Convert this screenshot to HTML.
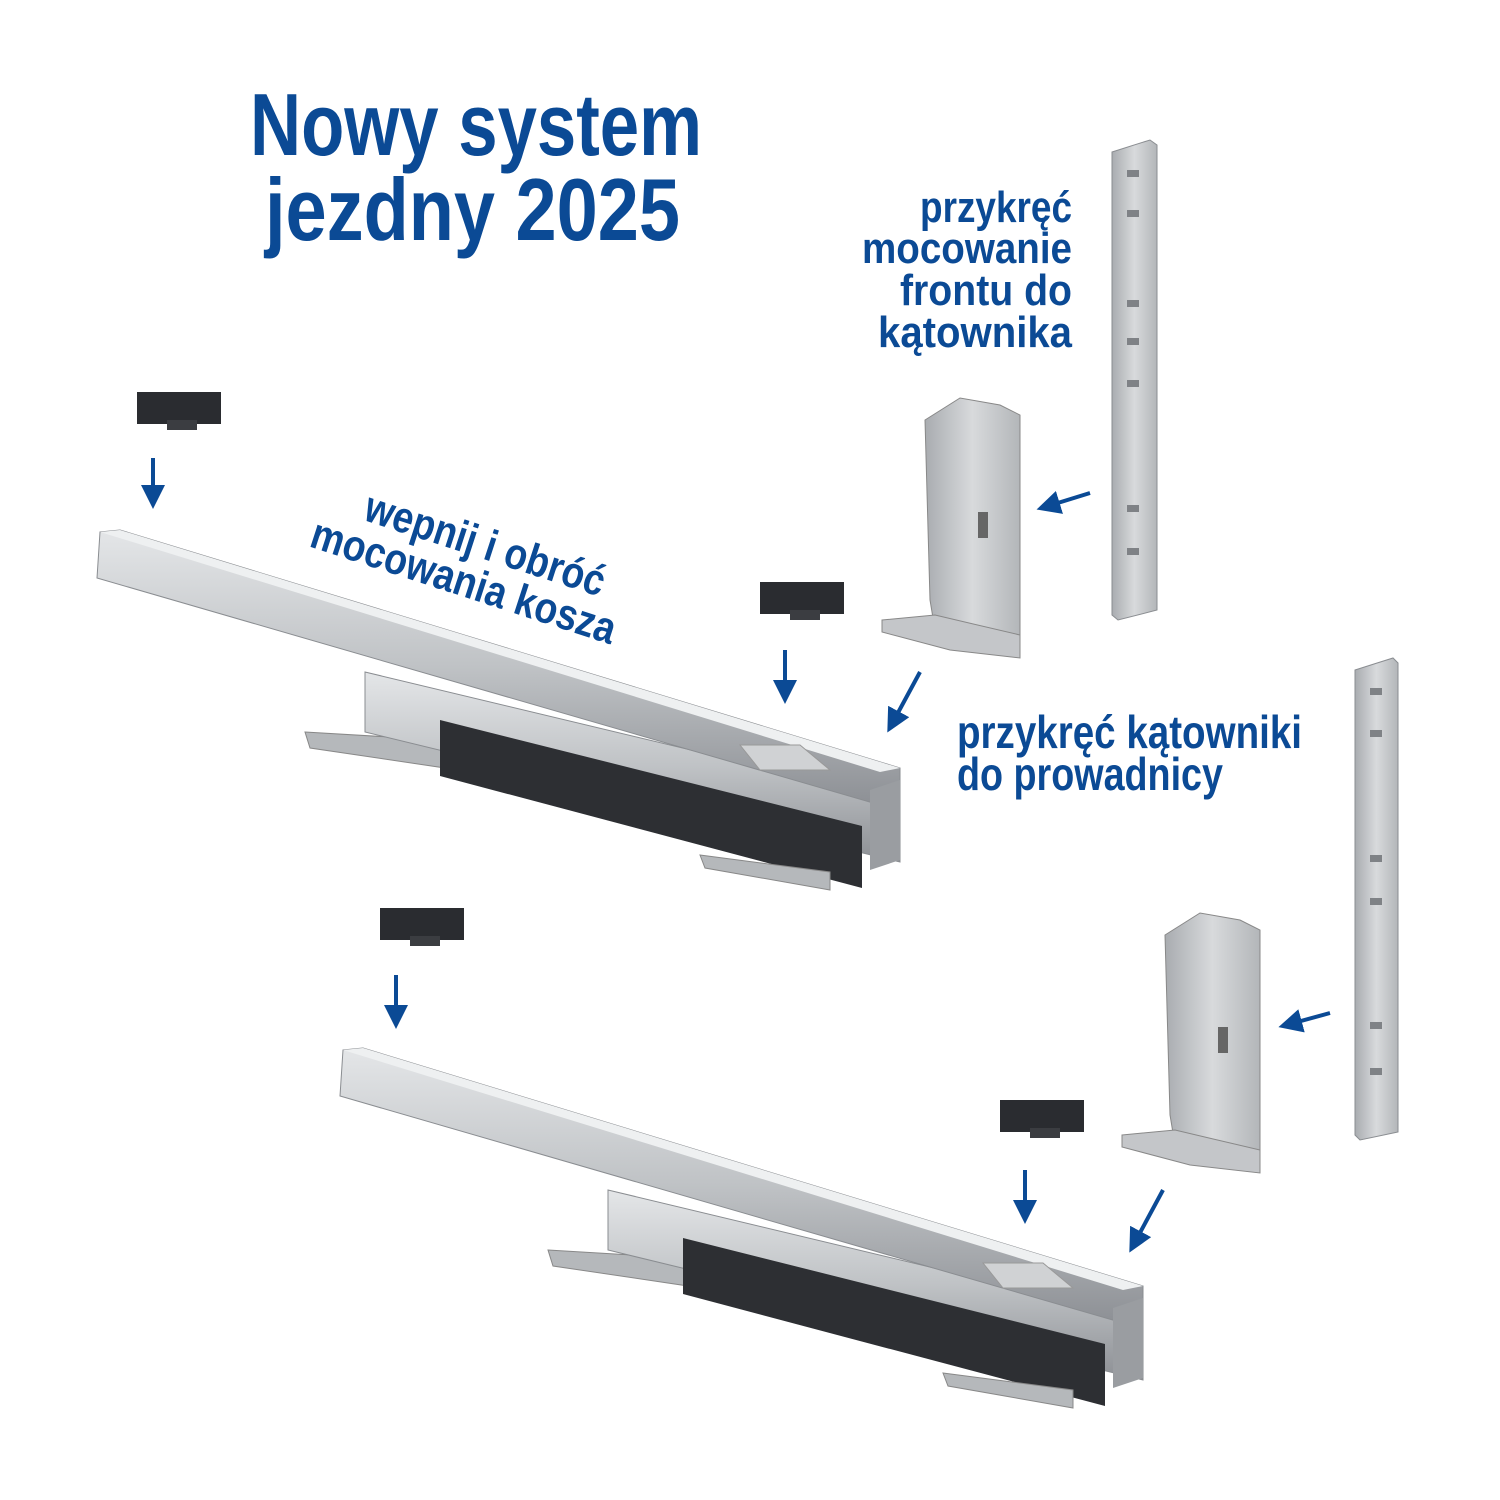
<!DOCTYPE html>
<html><head><meta charset="utf-8"><style>
html,body{margin:0;padding:0;background:#fff;width:1500px;height:1500px;overflow:hidden}
text{font-family:"Liberation Sans Narrow","Liberation Sans",sans-serif;font-weight:bold;fill:#0b4a95}
</style></head><body>
<svg width="1500" height="1500" viewBox="0 0 1500 1500" xmlns="http://www.w3.org/2000/svg">
<defs>
<linearGradient id="m" x1="0" y1="0" x2="0" y2="1"><stop offset="0" stop-color="#e4e6e8"/><stop offset="0.5" stop-color="#bfc2c5"/><stop offset="1" stop-color="#8d9095"/></linearGradient>
<linearGradient id="mv" x1="0" y1="0" x2="1" y2="0"><stop offset="0" stop-color="#a9acb0"/><stop offset="0.5" stop-color="#d8dadc"/><stop offset="1" stop-color="#b3b6b9"/></linearGradient>
<marker id="ah" markerWidth="6" markerHeight="6" refX="3" refY="3" orient="auto" markerUnits="strokeWidth"><path d="M0,0 L6,3 L0,6 z" fill="#0b4a95"/></marker>
<g id="rail">
<polygon points="305,732 440,740 445,768 310,748" fill="#b5b8bb" stroke="#888" stroke-width="1"/>
<polygon points="365,672 900,800 900,862 365,732" fill="url(#m)" stroke="#8a8d91"/>
<polygon points="440,720 862,826 862,888 440,776" fill="#2d2f33"/>
<polygon points="700,855 830,872 830,890 705,868" fill="#b5b8bb" stroke="#888"/>
<polygon points="100,532 120,530 900,768 900,800 880,805 97,578" fill="url(#m)" stroke="#8a8d91"/>
<polygon points="100,532 120,530 900,768 880,772" fill="#eef0f1"/>
<polygon points="870,790 900,780 900,860 870,870" fill="#9a9da1"/>
<polygon points="740,745 800,745 830,770 760,770" fill="#d0d2d4" stroke="#999"/>
</g>
<g id="clip"><rect x="0" y="0" width="84" height="32" fill="#2a2c30"/><rect x="30" y="28" width="30" height="10" fill="#3b3d41"/></g>
</defs>

<text x="250" y="155" font-size="88" textLength="452" lengthAdjust="spacingAndGlyphs">Nowy system</text>
<text x="265" y="240" font-size="88" textLength="415" lengthAdjust="spacingAndGlyphs">jezdny 2025</text>

<text x="1072" y="222" font-size="44" text-anchor="end" textLength="152" lengthAdjust="spacingAndGlyphs">przykręć</text>
<text x="1072" y="263" font-size="44" text-anchor="end" textLength="210" lengthAdjust="spacingAndGlyphs">mocowanie</text>
<text x="1072" y="305" font-size="44" text-anchor="end" textLength="172" lengthAdjust="spacingAndGlyphs">frontu do</text>
<text x="1072" y="347" font-size="44" text-anchor="end" textLength="194" lengthAdjust="spacingAndGlyphs">kątownika</text>

<text x="957" y="748" font-size="46" textLength="345" lengthAdjust="spacingAndGlyphs">przykręć kątowniki</text>
<text x="957" y="790" font-size="46" textLength="266" lengthAdjust="spacingAndGlyphs">do prowadnicy</text>

<g transform="rotate(18 365 510)"><text x="365" y="520" font-size="44" textLength="250" lengthAdjust="spacingAndGlyphs">wepnij i obróć</text>
<text x="322" y="562" font-size="44" textLength="318" lengthAdjust="spacingAndGlyphs">mocowania kosza</text></g>

<use href="#rail"/>
<use href="#rail" transform="translate(243,518)"/>

<use href="#clip" transform="translate(137,392)"/>
<use href="#clip" transform="translate(760,582)"/>
<use href="#clip" transform="translate(380,908)"/>
<use href="#clip" transform="translate(1000,1100)"/>

<g>
<polygon points="925,420 960,398 1000,405 1020,415 1020,650 935,630 930,600" fill="url(#mv)" stroke="#888"/>
<polygon points="882,620 935,615 1020,635 1020,658 950,650 882,632" fill="#c4c6c9" stroke="#888"/>
<rect x="978" y="512" width="10" height="26" fill="#666"/>
</g>
<g transform="translate(240,515)">
<polygon points="925,420 960,398 1000,405 1020,415 1020,650 935,630 930,600" fill="url(#mv)" stroke="#888"/>
<polygon points="882,620 935,615 1020,635 1020,658 950,650 882,632" fill="#c4c6c9" stroke="#888"/>
<rect x="978" y="512" width="10" height="26" fill="#666"/>
</g>
<polygon points="1112,152 1150,140 1157,145 1157,610 1118,620 1112,615" fill="url(#mv)" stroke="#8a8d91"/>
<polygon points="1355,670 1393,658 1398,663 1398,1132 1360,1140 1355,1135" fill="url(#mv)" stroke="#8a8d91"/>
<g fill="#7f8286">
<rect x="1127" y="170" width="12" height="7"/><rect x="1127" y="210" width="12" height="7"/><rect x="1127" y="300" width="12" height="7"/><rect x="1127" y="338" width="12" height="7"/><rect x="1127" y="380" width="12" height="7"/><rect x="1127" y="505" width="12" height="7"/><rect x="1127" y="548" width="12" height="7"/>
<rect x="1370" y="688" width="12" height="7"/><rect x="1370" y="730" width="12" height="7"/><rect x="1370" y="855" width="12" height="7"/><rect x="1370" y="898" width="12" height="7"/><rect x="1370" y="1022" width="12" height="7"/><rect x="1370" y="1068" width="12" height="7"/>
</g>

<g stroke="#0b4a95" stroke-width="4" fill="none" marker-end="url(#ah)">
<line x1="153" y1="458" x2="153" y2="497"/>
<line x1="785" y1="650" x2="785" y2="692"/>
<line x1="396" y1="975" x2="396" y2="1017"/>
<line x1="1025" y1="1170" x2="1025" y2="1212"/>
<line x1="920" y1="672" x2="893" y2="722"/>
<line x1="1163" y1="1190" x2="1135" y2="1242"/>
<line x1="1090" y1="493" x2="1048" y2="506"/>
<line x1="1330" y1="1013" x2="1290" y2="1024"/>
</g>
</svg>
</body></html>
